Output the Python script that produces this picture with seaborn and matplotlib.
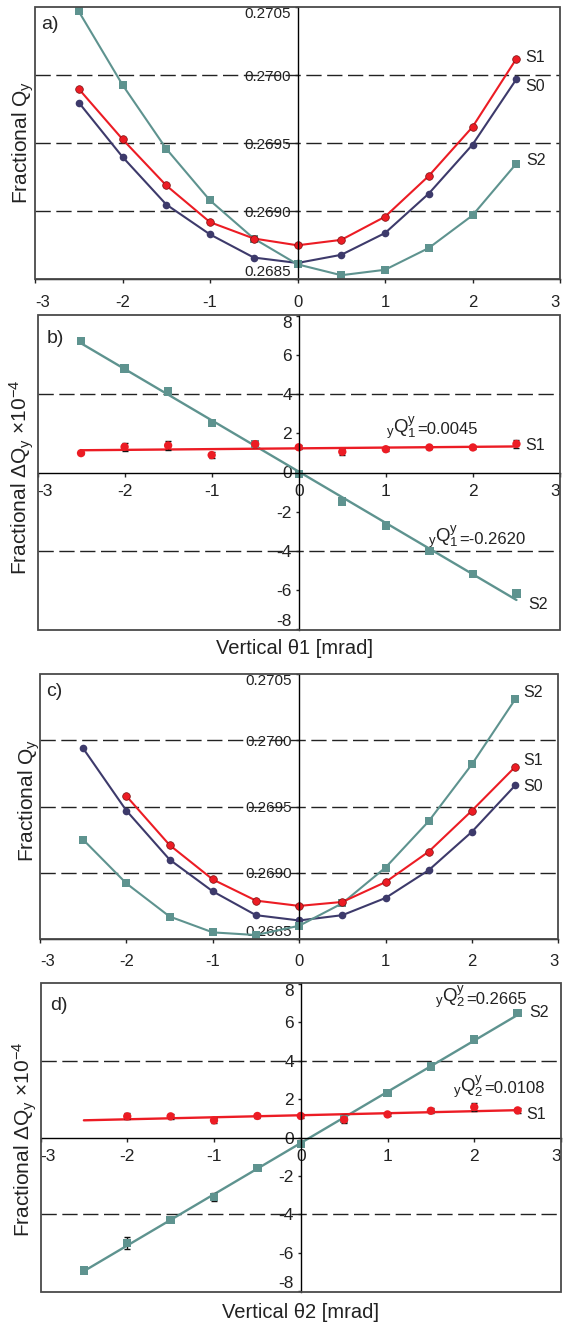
import numpy as np
import matplotlib
matplotlib.use('Agg')
import matplotlib.pyplot as plt
from matplotlib.patches import Rectangle
import seaborn as sns

# angle scan [mrad]
theta = [-2.5, -2.0, -1.5, -1.0, -0.5, 0.0, 0.5, 1.0, 1.5, 2.0, 2.5]

# a) fractional tune vs theta1
qa_s0 = [0.26980, 0.26940, 0.26905, 0.26883, 0.26866, 0.26862, 0.26868, 0.26884, 0.26913, 0.26949, 0.26997]
qa_s1 = [0.26990, 0.26953, 0.26919, 0.26892, 0.26880, 0.26875, 0.26879, 0.26896, 0.26926, 0.26962, 0.27012]
qa_s2 = [0.27047, 0.26993, 0.26946, 0.26908, 0.26880, 0.26861, 0.26853, 0.26857, 0.26873, 0.26897, 0.26935]

# b) tune shift vs theta1 (x 1e-4)
dqb_s1 = [0.99, 1.31, 1.38, 0.89, 1.45, 1.29, 1.06, 1.19, 1.28, 1.28, 1.46]
dqb_s1_err = [0.05, 0.2, 0.25, 0.15, 0.15, 0.1, 0.15, 0.1, 0.1, 0.1, 0.2]
dqb_s2 = [6.72, 5.31, 4.14, 2.52, 1.45, -0.09, -1.48, -2.71, -4.00, -5.19, -6.18]
dqb_s2_err = [0.1, 0.1, 0.1, 0.1, 0.1, 0.05, 0.1, 0.1, 0.1, 0.1, 0.15]

# c) fractional tune vs theta2
qc_s0 = [0.26994, 0.26947, 0.26910, 0.26886, 0.26868, 0.26864, 0.26868, 0.26881, 0.26902, 0.26931, 0.26966]
qc_s1 = [np.nan, 0.26958, 0.26921, 0.26895, 0.26879, 0.26875, 0.26878, 0.26893, 0.26916, 0.26947, 0.26980]
qc_s2 = [0.26925, 0.26892, 0.26867, 0.26855, 0.26853, 0.26860, 0.26877, 0.26904, 0.26939, 0.26982, 0.27031]

# d) tune shift vs theta2 (x 1e-4)
dqd_s1 = [np.nan, 1.10, 1.10, 0.89, 1.12, 1.12, 0.93, 1.20, 1.39, 1.58, 1.41]
dqd_s1_err = [0.0, 0.15, 0.12, 0.12, 0.1, 0.08, 0.12, 0.1, 0.12, 0.2, 0.12]
dqd_s2 = [-6.91, -5.50, -4.28, -3.08, -1.58, -0.33, 0.95, 2.30, 3.69, 5.09, 6.49]
dqd_s2_err = [0.05, 0.3, 0.1, 0.2, 0.05, 0.05, 0.2, 0.1, 0.1, 0.1, 0.1]

q_ticks = [0.2685, 0.2690, 0.2695, 0.2700, 0.2705]
q_dashes = [0.2690, 0.2695, 0.2700]
dq_ticks = [-8, -6, -4, -2, 0, 2, 4, 6, 8]
dq_dashes = [-4, 4]
x_ticks = [-3, -2, -1, 0, 1, 2, 3]

C_S0 = '#3d3a6b'
C_S1 = '#ec1c24'
C_S2 = '#5e938f'
TXT = '#222222'

sns.set_theme(style='white')
plt.rcParams['font.family'] = ['Liberation Sans', 'DejaVu Sans']
plt.rcParams['mathtext.fontset'] = 'custom'
plt.rcParams['mathtext.rm'] = 'Liberation Sans'
plt.rcParams['mathtext.it'] = 'Liberation Sans'
plt.rcParams['axes.unicode_minus'] = False

W, H = 570, 1327
fig = plt.figure(figsize=(W / 100, H / 100), dpi=100)


def px_axes(left, top, right, bottom):
    return fig.add_axes([left / W, 1 - bottom / H, (right - left) / W, (bottom - top) / H])


def frame(ax):
    ax.add_patch(Rectangle((0, 0), 1, 1, transform=ax.transAxes, fill=False,
                           edgecolor='#4a4a4a', linewidth=1.3, clip_on=False, zorder=6))
    ax.set_facecolor('white')
    for s in ['top', 'right']:
        ax.spines[s].set_visible(False)
    for s in ['left', 'bottom']:
        ax.spines[s].set_color('black')
        ax.spines[s].set_linewidth(1.0)
        ax.spines[s].set_zorder(5)
    ax.spines['left'].set_position(('data', 0))


def edge_labels(ax):
    # keep the outermost tick labels inside the frame
    yt = ax.yaxis.get_major_ticks()
    yt[0].label1.set_va('bottom')
    yt[-1].label1.set_va('top')
    xt = ax.xaxis.get_major_ticks()
    xt[0].label1.set_ha('left')
    xt[-1].label1.set_ha('right')


def fit_note(ax, x, y, idx, value):
    t = ax.text(x, y, r'$_{\mathrm{y}}\mathrm{Q}_{\mathrm{%s}}^{\mathrm{y}}$' % idx,
                fontsize=13.5, va='center', ha='left', color=TXT)
    ax.annotate('=' + value, xy=(1, 0), xycoords=t, xytext=(0.5, 2.5),
                textcoords='offset points', fontsize=12, va='bottom', ha='left', color=TXT)


def tune_panel(ax, s0, s1, s2, letter, names):
    for y in q_dashes:
        ax.axhline(y, color=TXT, lw=1.0, dashes=(11, 4), zorder=1)
    sns.lineplot(x=theta, y=s0, color=C_S0, marker='o', markersize=5.5, markeredgewidth=0,
                 linewidth=1.5, estimator=None, ax=ax, zorder=3)
    sns.lineplot(x=theta, y=s1, color=C_S1, marker='o', markersize=5.5, markeredgewidth=0.5,
                 markeredgecolor='#7a1010', linewidth=1.5, estimator=None, ax=ax, zorder=4)
    sns.lineplot(x=theta, y=s2, color=C_S2, marker='s', markersize=5.5, markeredgewidth=0,
                 linewidth=1.5, estimator=None, ax=ax, zorder=3)
    ax.set_xlim(-3, 3)
    ax.set_ylim(q_ticks[0], q_ticks[-1])
    frame(ax)
    ax.set_xticks(x_ticks)
    ax.set_xticklabels([str(v) for v in x_ticks], fontsize=12, color=TXT)
    ax.set_yticks(q_ticks)
    ax.set_yticklabels([f'{v:.4f}' for v in q_ticks], fontsize=11, color=TXT)
    ax.tick_params(axis='x', direction='out', length=3, width=1, pad=8, bottom=True)
    ax.tick_params(axis='y', direction='out', length=2.5, width=1, pad=2.5, left=True)
    edge_labels(ax)
    ax.set_xlabel('')
    ax.set_ylabel('')
    ax.text(0.012, 0.935, letter, transform=ax.transAxes, fontsize=14, va='center', ha='left')
    for txt, x, y in names:
        ax.text(x, y, txt, fontsize=11.5, va='center', ha='left', color=TXT)


def shift_panel(ax, s1, s1_err, s2, s2_err, letter, names, notes):
    for y in dq_dashes:
        ax.axhline(y, color=TXT, lw=1.0, dashes=(11, 4), zorder=1)
    for vals, err, col, mk in [(s2, s2_err, C_S2, 's'), (s1, s1_err, C_S1, 'o')]:
        xv = np.array(theta)
        yv = np.array(vals)
        ok = ~np.isnan(yv)
        coef = np.polyfit(xv[ok], yv[ok], 1)
        ends = [theta[0], theta[-1]]
        sns.lineplot(x=ends, y=np.polyval(coef, ends), color=col, linewidth=1.7,
                     estimator=None, ax=ax, zorder=3)
        ax.errorbar(xv[ok], yv[ok], yerr=np.array(err)[ok], fmt='none', ecolor='#111111',
                    elinewidth=1.0, capsize=2, capthick=1.0, zorder=3.5)
        sns.scatterplot(x=xv[ok], y=yv[ok], color=col, marker=mk, s=36, edgecolor='none',
                        ax=ax, zorder=4)
    ax.set_xlim(-3, 3)
    ax.set_ylim(dq_ticks[0] - 0.05, dq_ticks[-1] + 0.05)
    frame(ax)
    ax.spines['bottom'].set_position(('data', 0))
    ax.set_xticks(x_ticks)
    ax.set_xticklabels([str(v) for v in x_ticks], fontsize=12.5, color=TXT)
    ax.set_yticks(dq_ticks)
    ax.set_yticklabels([str(v) for v in dq_ticks], fontsize=12.5, color=TXT)
    ax.tick_params(axis='x', direction='out', length=3, width=1, pad=5, bottom=True)
    ax.tick_params(axis='y', direction='out', length=2.5, width=1, pad=2.5, left=True)
    edge_labels(ax)
    ax.set_xlabel('')
    ax.set_ylabel('')
    ax.text(0.018, 0.925, letter, transform=ax.transAxes, fontsize=14, va='center', ha='left')
    for txt, x, y in names:
        ax.text(x, y, txt, fontsize=11.5, va='center', ha='left', color=TXT)
    for x, y, idx, value in notes:
        fit_note(ax, x, y, idx, value)


ax_a = px_axes(35, 7.3, 560, 279.3)
tune_panel(ax_a, qa_s0, qa_s1, qa_s2, 'a)',
           [('S1', 2.6, 0.27013), ('S0', 2.6, 0.26992), ('S2', 2.62, 0.26937)])

ax_b = px_axes(37.5, 315, 560, 630)
shift_panel(ax_b, dqb_s1, dqb_s1_err, dqb_s2, dqb_s2_err, 'b)',
            [('S1', 2.6, 1.38), ('S2', 2.63, -6.76)],
            [(1.0, 2.3, '1', '0.0045'), (1.48, -3.3, '1', '-0.2620')])

ax_c = px_axes(40, 674.3, 558.3, 939)
tune_panel(ax_c, qc_s0, qc_s1, qc_s2, 'c)',
           [('S2', 2.6, 0.27036), ('S1', 2.6, 0.26985), ('S0', 2.6, 0.26965)])

ax_d = px_axes(40.5, 982.7, 561, 1292.3)
shift_panel(ax_d, dqd_s1, dqd_s1_err, dqd_s2, dqd_s2_err, 'd)',
            [('S2', 2.63, 6.5), ('S1', 2.6, 1.22)],
            [(1.55, 7.3, '2', '0.2665'), (1.76, 2.65, '2', '0.0108')])

# axis titles
ylab_q = 'Fractional Q$_{\\mathrm{y}}$'
ylab_dq = 'Fractional ΔQ$_{\\mathrm{y}}$ ×10$^{-4}$'
fig.text(23.6 / W, 1 - 142 / H, ylab_q, rotation=90, ha='center', va='center', fontsize=15, color=TXT)
fig.text(22 / W, 1 - 477 / H, ylab_dq, rotation=90, ha='center', va='center', fontsize=15, color=TXT)
fig.text(29 / W, 1 - 800 / H, ylab_q, rotation=90, ha='center', va='center', fontsize=15, color=TXT)
fig.text(25 / W, 1 - 1139 / H, ylab_dq, rotation=90, ha='center', va='center', fontsize=15, color=TXT)
fig.text(294.6 / W, 1 - 648 / H, 'Vertical θ1 [mrad]', ha='center', va='center', fontsize=14.5, color=TXT)
fig.text(300 / W, 1 - 1313 / H, 'Vertical θ2 [mrad]', ha='center', va='center', fontsize=14.5, color=TXT)

fig.savefig('out.png', dpi=100)
